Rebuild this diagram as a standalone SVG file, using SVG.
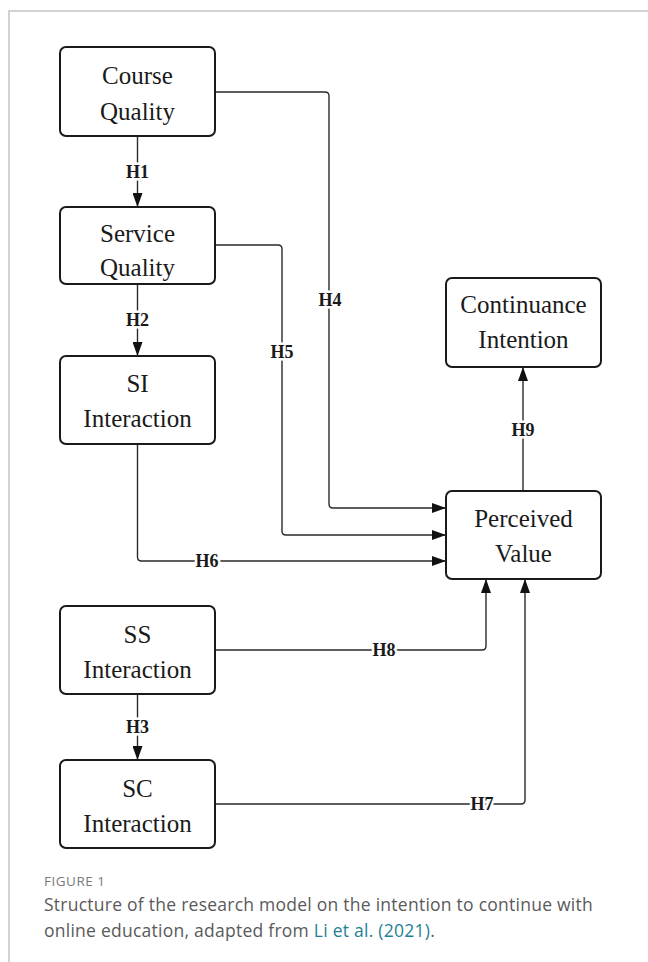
<svg xmlns="http://www.w3.org/2000/svg" width="648" height="962" viewBox="0 0 648 962">
  <style>
    .frame { fill: none; stroke: #c4c4c4; stroke-width: 1.5; }
    .box { fill: #ffffff; stroke: #1a1a1a; stroke-width: 2; }
    .node-text { font-family: "Liberation Serif", "DejaVu Serif", serif; font-size: 25px; fill: #1a1a1a; text-anchor: middle; }
    .edge { fill: none; stroke: #2a2a2a; stroke-width: 1.4; }
    .edge-label { font-family: "Liberation Serif", "DejaVu Serif", serif; font-size: 18px; font-weight: bold; fill: #1a1a1a; text-anchor: middle; stroke: #ffffff; stroke-width: 5; paint-order: stroke; stroke-linejoin: round; }
    .fig-num { font-family: "Open Sans", "Liberation Sans", sans-serif; font-size: 13.5px; letter-spacing: 0.5px; fill: #7a7a7a; }
    .caption { font-family: "Open Sans", "Liberation Sans", sans-serif; font-size: 17.5px; letter-spacing: 0.25px; fill: #5a5a5a; }
    .link { fill: #1f7f95; }
  </style>
  <defs>
    <marker id="arrow" viewBox="0 0 14 10" refX="14" refY="5" markerWidth="14" markerHeight="10" markerUnits="userSpaceOnUse" orient="auto">
      <path d="M0,0 L14,5 L0,10 Z" fill="#111111"/>
    </marker>
  </defs>

  <!-- page frame -->
  <path class="frame" d="M9,962 V11 H648"/>

  <!-- connectors -->
  <g id="connectors">
    <path id="h1" class="edge" marker-end="url(#arrow)" d="M137.5,136 V207"/>
    <path id="h2" class="edge" marker-end="url(#arrow)" d="M137.5,284 V356"/>
    <path id="h3" class="edge" marker-end="url(#arrow)" d="M137.5,694 V760"/>
    <path id="h4" class="edge" marker-end="url(#arrow)" d="M215,92 H325 Q329,92 329,96 V504 Q329,508 333,508 H446"/>
    <path id="h5" class="edge" marker-end="url(#arrow)" d="M215,245 H278 Q282,245 282,249 V531 Q282,535 286,535 H446"/>
    <path id="h6" class="edge" marker-end="url(#arrow)" d="M137.5,444 V557 Q137.5,561 141.5,561 H446"/>
    <path id="h8" class="edge" marker-end="url(#arrow)" d="M215,650 H482 Q486,650 486,646 V579"/>
    <path id="h7" class="edge" marker-end="url(#arrow)" d="M215,804 H521 Q525,804 525,800 V579"/>
    <path id="h9" class="edge" marker-end="url(#arrow)" d="M523,491 V367"/>

    <text class="edge-label" x="137.5" y="178">H1</text>
    <text class="edge-label" x="137.5" y="326">H2</text>
    <text class="edge-label" x="137.5" y="733">H3</text>
    <text class="edge-label" x="330" y="306">H4</text>
    <text class="edge-label" x="282" y="358">H5</text>
    <text class="edge-label" x="207" y="567">H6</text>
    <text class="edge-label" x="482" y="810">H7</text>
    <text class="edge-label" x="384" y="656">H8</text>
    <text class="edge-label" x="523" y="436">H9</text>
  </g>

  <!-- nodes -->
  <g id="course-quality">
    <rect class="box" x="60" y="47" width="155" height="89" rx="6"/>
    <text class="node-text" x="137.5" y="84">Course</text>
    <text class="node-text" x="137.5" y="120">Quality</text>
  </g>
  <g id="service-quality">
    <rect class="box" x="60" y="207" width="155" height="77" rx="6"/>
    <text class="node-text" x="137.5" y="242">Service</text>
    <text class="node-text" x="137.5" y="276">Quality</text>
  </g>
  <g id="si-interaction">
    <rect class="box" x="60" y="356" width="155" height="88" rx="6"/>
    <text class="node-text" x="137.5" y="392">SI</text>
    <text class="node-text" x="137.5" y="427">Interaction</text>
  </g>
  <g id="ss-interaction">
    <rect class="box" x="60" y="606" width="155" height="88" rx="6"/>
    <text class="node-text" x="137.5" y="643">SS</text>
    <text class="node-text" x="137.5" y="678">Interaction</text>
  </g>
  <g id="sc-interaction">
    <rect class="box" x="60" y="760" width="155" height="88" rx="6"/>
    <text class="node-text" x="137.5" y="797">SC</text>
    <text class="node-text" x="137.5" y="832">Interaction</text>
  </g>
  <g id="continuance-intention">
    <rect class="box" x="446" y="278" width="155" height="89" rx="6"/>
    <text class="node-text" x="523.5" y="313">Continuance</text>
    <text class="node-text" x="523.5" y="348">Intention</text>
  </g>
  <g id="perceived-value">
    <rect class="box" x="446" y="491" width="155" height="88" rx="6"/>
    <text class="node-text" x="523.5" y="527">Perceived</text>
    <text class="node-text" x="523.5" y="562">Value</text>
  </g>

  <!-- caption -->
  <text class="fig-num" x="44" y="886">FIGURE 1</text>
  <text class="caption" x="44" y="911">Structure of the research model on the intention to continue with</text>
  <text class="caption" x="44" y="937">online education, adapted from <tspan class="link">Li et al. (2021)</tspan>.</text>
</svg>
